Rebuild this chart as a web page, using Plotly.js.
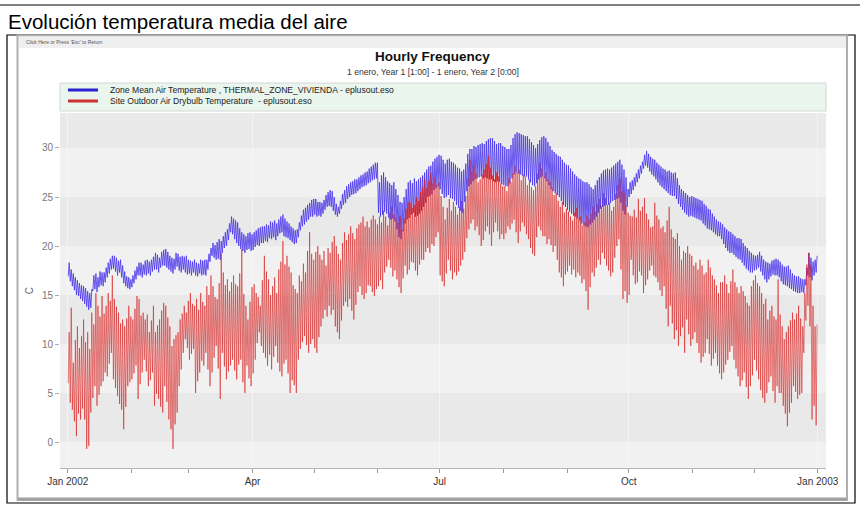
<!DOCTYPE html>
<html><head><meta charset="utf-8">
<script src="https://cdn.plot.ly/plotly-3.0.1.min.js"></script>
<style>html,body{margin:0;padding:0;background:#fff;}#chart{width:860px;height:508px;}</style>
</head><body><div id="chart"></div>
<script>
// ---------------- DATA ----------------
const docTitle = 'Evolución temperatura media del aire';
const chartTitle = 'Hourly Frequency';
const chartSubtitle = '1 enero, Year 1 [1:00] - 1 enero, Year 2 [0:00]';
const returnText = "Click Here or Press 'Esc' to Return";
const yAxisTitle = 'C';
const seriesNames = ['Zone Mean Air Temperature , THERMAL_ZONE_VIVIENDA - eplusout.eso',
                     'Site Outdoor Air Drybulb Temperature  - eplusout.eso'];
const firstDay = '2002-01-01';
const tickDates = ['2002-01-01','2002-04-01','2002-07-01','2002-10-01','2003-01-01'];
const tickLabels = ['Jan 2002','Apr','Jul','Oct','Jan 2003'];
const yTicks = [0,5,10,15,20,25,30];

// daily minimum / maximum, one value per day of 2002 (365)
const outdoorHigh = [
 11.2,13.7,8.1,10.4,11.8,9.6,10.8,12.5,10.2,11.2,9.5,13.2,12.0,15.2,13.9,12.8,14.9,13.1,13.9,15.2,14.4,17.0,14.6,13.8,13.2,12.1,12.5,11.8,12.6,13.9,12.8,
 12.5,13.6,14.9,14.6,12.9,13.2,12.5,13.0,11.2,12.4,13.9,11.2,11.9,12.5,13.4,14.2,13.9,12.7,11.8,9.8,10.5,10.9,11.2,12.5,13.1,13.9,13.2,14.4,
 15.2,14.1,13.9,14.6,13.5,15.2,14.3,13.9,15.9,15.0,17.0,15.9,14.8,14.6,16.2,19.3,17.3,16.0,16.6,15.4,16.3,17.0,16.1,15.9,17.2,19.7,15.1,13.9,12.5,14.3,15.8,
 16.1,15.2,14.8,13.9,16.5,19.0,17.4,16.6,15.0,15.9,16.8,15.2,17.6,18.4,20.5,18.1,19.0,17.9,17.3,16.0,15.6,15.2,17.0,16.4,18.2,17.3,19.5,21.4,19.2,18.6,
 19.4,20.0,19.1,18.6,19.5,18.0,19.8,19.3,20.4,21.0,20.0,19.2,18.6,20.3,21.4,20.6,21.2,22.0,21.3,20.7,21.8,22.2,22.4,23.0,22.0,22.5,21.9,22.7,23.1,22.7,22.2,
 23.0,22.4,23.6,23.0,22.1,23.4,24.0,23.2,22.9,22.4,23.0,21.7,22.8,23.8,24.5,24.4,23.9,24.2,25.0,24.6,25.5,26.0,26.8,25.9,26.6,27.5,26.4,27.0,26.2,26.5,
 25.1,24.0,22.7,23.9,24.8,23.6,24.5,24.0,23.2,24.0,24.6,23.8,25.1,26.9,28.8,27.6,28.2,27.4,26.5,26.8,27.3,27.8,28.4,29.2,28.0,27.2,26.8,27.5,27.1,26.4,26.1,
 26.1,25.6,26.9,26.5,27.4,28.2,27.5,27.8,26.7,27.3,27.1,26.2,26.8,26.0,25.7,26.1,27.4,28.5,27.9,27.1,27.5,26.8,26.5,25.9,25.2,25.4,24.6,24.0,24.5,23.4,23.8,
 23.5,23.0,22.6,23.4,23.9,22.8,23.0,22.1,22.4,23.1,22.7,23.3,24.0,23.5,24.3,24.8,24.1,25.4,24.9,24.2,24.4,23.6,24.0,25.3,26.2,26.8,25.6,25.4,24.1,23.4,
 23.1,23.0,23.7,22.9,24.8,23.6,24.0,24.9,23.3,22.7,21.9,22.0,24.4,23.1,22.7,21.8,22.0,21.4,22.6,24.0,21.7,20.9,20.7,21.3,20.0,18.6,19.5,19.3,20.0,19.2,19.0,
 18.0,18.3,17.6,18.6,18.0,17.1,17.3,18.6,17.8,17.0,16.6,16.0,15.2,16.3,16.3,17.0,16.1,15.2,16.4,17.6,16.3,15.8,15.2,15.9,15.4,14.9,14.2,13.9,15.9,16.5,
 17.0,16.2,15.9,15.2,14.1,14.6,12.5,13.4,13.9,12.8,12.5,16.6,13.0,11.8,10.5,11.2,11.8,12.4,13.2,12.5,13.1,13.9,12.6,11.8,15.2,18.1,19.3,18.0,13.9,11.8,12.0
];
const outdoorLow = [
 6.0,4.0,3.3,2.1,0.6,2.9,2.3,3.4,2.3,-0.7,-0.4,3.0,4.5,5.7,3.7,4.8,5.7,6.2,7.1,6.7,8.0,9.1,6.4,5.5,4.7,3.9,3.3,1.3,3.6,5.7,6.1,
 6.4,7.0,7.8,4.4,5.9,7.1,8.4,7.2,5.7,6.3,7.1,3.7,4.9,4.4,3.6,3.0,5.7,4.1,2.3,1.3,-0.7,1.8,3.0,5.7,7.4,9.1,10.5,9.6,
 8.4,9.0,9.5,5.0,6.2,7.1,8.3,7.8,9.1,7.4,5.7,7.1,8.6,9.8,7.5,4.4,9.1,7.7,6.4,7.2,7.8,8.4,7.3,6.4,7.9,8.4,6.1,5.0,7.8,6.5,5.7,
 7.0,8.4,10.1,11.2,9.8,9.1,8.6,7.8,8.9,7.4,8.7,9.8,8.1,7.2,6.7,8.0,8.4,7.0,5.0,6.3,5.8,5.0,8.4,9.5,10.2,10.8,9.9,9.1,10.0,10.5,
 9.6,9.1,10.7,11.8,12.6,13.5,12.8,13.9,13.0,13.5,11.8,11.2,10.5,12.4,13.9,14.3,13.8,14.6,13.4,12.5,14.0,15.3,15.9,15.0,14.6,15.2,16.0,15.9,15.3,14.9,15.6,
 15.9,16.5,15.6,17.3,17.9,18.6,17.8,16.9,17.5,16.6,15.8,15.2,16.7,18.0,17.1,17.6,18.4,18.3,17.5,17.0,18.1,18.6,18.6,19.4,19.8,19.3,20.2,20.0,20.9,21.4,
 17.0,16.4,15.9,17.2,18.6,17.5,16.6,17.3,17.0,17.4,18.0,18.6,19.4,20.8,21.7,22.3,22.7,21.6,22.0,21.1,20.0,20.6,21.5,22.0,21.2,20.0,21.4,22.4,21.5,20.7,21.2,
 20.7,21.3,22.0,21.7,22.3,22.7,21.4,20.3,21.5,22.4,22.0,21.2,20.7,19.8,19.2,19.0,20.9,22.0,21.6,21.0,21.0,20.2,20.7,20.1,19.4,20.0,18.6,17.3,16.8,15.9,17.1,
 17.4,18.0,17.1,17.6,16.8,17.3,17.0,16.2,16.6,15.4,13.5,15.8,17.3,16.9,17.8,18.6,18.1,19.3,18.7,18.0,17.5,16.9,17.3,18.8,20.0,20.7,17.6,14.6,15.4,14.2,
 15.0,18.6,17.0,16.1,16.3,17.4,17.0,15.2,16.0,16.6,17.5,18.0,17.0,16.8,16.3,15.5,14.9,15.9,13.6,11.8,13.9,12.1,10.5,11.4,9.8,10.8,11.7,9.1,12.5,11.0,9.8,
 10.5,11.2,10.1,9.1,8.1,8.7,9.1,10.5,9.0,7.8,8.5,9.1,7.8,7.0,6.4,7.1,7.9,8.4,9.2,9.8,8.4,7.5,6.7,5.7,6.3,7.1,5.6,4.4,5.7,6.8,
 8.4,7.3,6.4,5.3,4.5,4.0,5.0,6.1,6.7,5.2,4.0,5.7,5.0,5.0,3.7,2.9,1.6,3.0,4.0,5.7,5.1,4.4,4.8,5.0,9.1,12.4,13.9,11.8,2.3,3.7,1.7
];
const zoneHigh = [
 18.3,17.6,17.2,16.8,16.5,16.2,16.0,15.9,15.7,15.4,15.2,15.6,17.0,17.2,16.8,17.4,17.3,17.3,17.8,18.3,18.7,19.0,19.0,18.8,18.5,18.6,18.0,17.4,16.9,16.8,16.6,
 17.0,17.5,17.9,18.3,18.3,18.1,18.5,18.6,18.4,18.6,18.9,19.3,19.1,18.8,19.4,19.6,19.7,19.4,19.0,18.8,18.7,19.3,19.2,18.9,19.0,18.9,19.0,18.6,
 18.5,18.4,18.6,18.3,18.2,18.6,18.5,18.6,18.6,19.2,19.8,20.3,20.1,20.4,20.7,20.5,21.0,21.4,21.7,22.3,23.0,22.8,22.6,22.4,21.8,21.4,21.2,21.0,21.3,21.4,21.2,
 21.4,21.6,21.8,21.9,22.0,22.0,22.2,22.1,22.5,22.4,22.6,22.3,22.7,23.0,23.2,22.8,22.5,22.3,22.0,21.8,21.6,21.7,22.4,23.1,23.7,23.9,24.2,24.4,24.7,24.8,
 24.8,24.5,24.5,24.4,24.7,25.2,25.5,25.7,25.6,25.0,24.3,24.0,24.6,25.3,25.7,26.1,26.3,26.5,26.6,26.8,26.8,27.0,27.2,27.3,27.5,27.6,27.9,28.1,28.3,28.5,28.5,
 26.5,27.2,27.5,27.0,26.6,26.4,26.2,26.5,25.8,25.2,24.5,24.4,25.0,25.8,26.5,26.7,26.4,26.9,26.6,26.8,27.0,27.2,27.5,27.8,28.1,28.2,28.6,28.9,29.1,29.3,
 29.2,28.8,28.4,28.8,28.9,28.6,28.5,28.3,28.0,27.9,27.6,27.8,28.4,29.4,29.9,29.9,30.2,30.1,30.3,30.4,30.5,30.4,30.7,30.9,31.0,31.0,30.7,30.4,30.5,30.5,30.2,
 30.1,29.9,29.9,30.3,31.0,31.4,31.6,31.5,31.4,31.3,31.2,31.2,30.9,30.6,30.3,30.0,30.4,30.8,31.1,31.2,31.0,30.6,30.2,29.8,29.6,29.4,29.2,29.1,28.8,28.5,28.3,
 28.2,27.9,27.6,27.3,27.1,26.9,26.8,26.6,26.5,26.5,26.3,26.0,25.8,26.2,26.7,27.0,27.4,27.7,27.8,27.9,27.8,28.0,28.2,28.4,28.6,28.8,28.3,27.8,27.0,25.8,
 26.5,26.7,27.0,27.4,27.8,28.2,28.6,29.3,29.7,29.4,29.1,28.9,28.8,28.5,28.3,28.1,27.9,27.8,27.6,27.7,27.5,27.4,27.5,26.9,26.2,25.8,25.6,25.4,25.2,25.0,25.1,
 25.0,24.9,24.8,24.7,24.6,24.3,24.1,23.8,23.7,23.3,23.0,22.7,22.5,22.4,22.2,21.9,21.7,21.5,21.4,21.2,21.0,20.8,20.8,20.7,20.3,20.0,19.8,19.5,19.3,19.1,
 19.0,19.1,19.4,19.0,18.6,18.4,18.3,18.2,18.5,18.6,18.7,18.6,18.4,18.1,17.9,17.9,18.0,17.6,17.2,17.0,16.9,16.9,16.7,16.6,16.6,17.8,19.3,18.8,18.4,18.6,19.0
];
const zoneLow = [
 16.9,16.4,15.9,15.5,15.0,14.9,14.6,14.4,14.1,13.8,13.5,13.7,15.4,15.6,15.3,15.8,16.0,15.9,16.3,16.8,17.2,17.6,17.7,17.4,17.0,17.3,16.8,16.2,15.9,15.7,15.6,
 15.8,16.2,16.6,17.0,17.0,16.8,17.1,17.0,17.2,17.0,17.4,17.6,17.6,17.3,17.8,18.0,18.0,17.8,17.6,17.4,17.2,17.6,17.9,17.5,17.3,17.6,17.3,17.1,
 17.2,17.0,17.3,17.0,16.9,17.2,17.0,17.1,17.0,17.6,18.4,19.0,18.8,18.6,18.7,18.6,19.3,19.8,20.0,20.6,21.4,21.2,20.7,20.3,20.0,19.7,19.5,19.3,19.6,19.7,19.5,
 19.6,19.9,20.1,20.0,20.3,20.3,20.5,20.4,20.8,20.7,20.9,20.6,21.0,21.3,21.4,21.0,20.9,20.8,20.6,20.4,20.2,20.3,20.9,21.6,22.0,22.2,22.5,22.7,23.0,23.0,
 23.2,23.0,23.1,23.0,23.3,23.7,24.0,24.1,24.0,23.6,23.2,23.0,23.3,23.8,24.2,24.4,24.8,25.0,25.2,25.3,25.4,25.6,25.8,26.0,26.1,26.2,26.4,26.5,26.7,26.8,26.9,
 23.4,23.0,23.2,23.5,23.3,22.9,22.7,22.8,22.5,21.7,20.9,20.7,21.5,22.3,22.7,22.9,23.2,23.4,23.0,23.1,23.3,23.6,24.0,24.4,25.0,25.1,25.3,25.7,25.9,26.1,
 25.8,25.3,24.9,25.0,25.2,24.9,24.8,24.6,24.2,23.9,23.6,23.4,24.5,25.6,26.1,26.3,26.6,26.8,26.9,27.0,27.1,26.9,27.0,26.9,26.8,26.8,26.6,26.5,26.6,26.5,26.3,
 26.2,26.1,26.1,26.4,26.9,27.3,27.5,27.4,27.3,27.2,27.1,27.1,26.8,26.5,26.2,26.1,26.4,26.8,27.0,27.1,26.9,26.6,26.2,25.8,25.6,25.4,25.2,25.0,24.6,24.2,24.0,
 23.7,23.5,23.3,23.1,23.0,22.8,22.6,22.3,22.1,22.0,21.9,22.2,22.4,22.7,23.0,23.4,23.8,24.0,24.1,24.2,24.2,24.4,24.6,24.7,24.8,24.9,24.4,23.6,23.2,24.0,
 25.0,25.3,25.7,26.1,26.5,26.9,27.4,27.9,28.2,28.0,27.6,27.3,27.1,26.8,26.5,26.2,26.0,25.8,25.6,25.4,25.2,25.1,25.1,24.8,24.3,24.0,23.7,23.4,23.2,23.0,23.1,
 23.0,22.9,22.8,22.7,22.6,22.3,22.1,21.8,21.7,21.6,21.4,21.2,21.0,21.0,20.7,20.2,19.8,19.5,19.3,19.3,19.1,18.9,18.7,18.6,18.3,18.0,17.7,17.5,17.3,17.3,
 17.5,17.6,17.8,17.4,17.0,16.6,16.3,16.6,16.9,17.1,17.0,17.0,16.8,16.4,16.1,16.0,15.9,15.7,15.6,15.4,15.3,15.2,15.2,15.3,15.2,16.0,17.0,16.8,16.5,17.0,17.3
];

// ---------------- BUILD ----------------
const DAY = 86400000;
const t0 = Date.parse(firstDay + 'T00:00:00Z');
function iso(ms){ return new Date(ms).toISOString().slice(0,19).replace('T',' '); }
function dailyTrace(lo, hi){
  const x = [], y = [];
  for (let i = 0; i < lo.length; i++){
    x.push(iso(t0 + (i + 0.25) * DAY)); y.push(lo[i]);
    x.push(iso(t0 + (i + 0.72) * DAY)); y.push(hi[i]);
  }
  return {x, y};
}
const zone = dailyTrace(zoneLow, zoneHigh);
const outdoor = dailyTrace(outdoorLow, outdoorHigh);

const W = 860, H = 508;
const M = {l:60, r:34, t:113, b:40};
const PW = W - M.l - M.r, PH = H - M.t - M.b;
const px = v => (v - M.l) / PW;
const py = v => (H - M.b - v) / PH;

const FONT = 'Liberation Sans, Arial, sans-serif';
const yMin = -2.65, yMax = 33.57;

const shapes = [];
// document frame
shapes.push({type:'line', xref:'paper', yref:'paper', x0:px(0), x1:px(860), y0:py(5), y1:py(5), line:{color:'#000', width:1}, layer:'below'});
shapes.push({type:'rect', xref:'paper', yref:'paper', x0:px(7), x1:px(855), y0:py(35), y1:py(503), line:{color:'#000', width:1.2}, fillcolor:'#fff', layer:'below'});
// screenshot window
shapes.push({type:'rect', xref:'paper', yref:'paper', x0:px(17.5), x1:px(847), y0:py(35.5), y1:py(500), line:{color:'#b0b0b0', width:2}, fillcolor:'#fff', layer:'below'});
shapes.push({type:'line', xref:'paper', yref:'paper', x0:px(18), x1:px(847), y0:py(499), y1:py(499), line:{color:'#a0a0a0', width:3}, layer:'below'});
shapes.push({type:'rect', xref:'paper', yref:'paper', x0:px(19), x1:px(846), y0:py(36.5), y1:py(48), line:{width:0}, fillcolor:'#efefef', layer:'below'});
// legend box
shapes.push({type:'rect', xref:'paper', yref:'paper', x0:px(60), x1:px(826), y0:py(83), y1:py(111), line:{color:'#d6d6d6', width:1}, fillcolor:'#e9f5ed', layer:'below'});
shapes.push({type:'line', xref:'paper', yref:'paper', x0:px(68), x1:px(98), y0:py(90), y1:py(90), line:{color:'#2a22d0', width:3}});
shapes.push({type:'line', xref:'paper', yref:'paper', x0:px(68), x1:px(98), y0:py(101), y1:py(101), line:{color:'#cc3333', width:3}});
// alternating horizontal bands between y tick values
const bounds = [yMin].concat(yTicks).concat([yMax]);
for (let i = 0; i < bounds.length - 1; i++){
  const dark = (i % 2 === 1);
  shapes.push({type:'rect', xref:'paper', yref:'y', x0:0, x1:1, y0:bounds[i], y1:bounds[i+1],
    line:{width:0}, fillcolor: dark ? '#e9e9e9' : '#f1f1f1', layer:'below'});
}

const annotations = [
  {text:docTitle, x:px(6), y:py(22), xanchor:'left', yanchor:'middle', font:{family:FONT, size:20.5, color:'#000'}},
  {text:returnText, x:px(24), y:py(42), xanchor:'left', yanchor:'middle', font:{family:FONT, size:5, color:'#555'}},
  {text:'<b>' + chartTitle + '</b>', x:px(432), y:py(57), xanchor:'center', yanchor:'middle', font:{family:FONT, size:13.5, color:'#111'}},
  {text:chartSubtitle, x:px(433), y:py(72), xanchor:'center', yanchor:'middle', font:{family:FONT, size:8.6, color:'#333'}},
  {text:seriesNames[0], x:px(108), y:py(90), xanchor:'left', yanchor:'middle', font:{family:FONT, size:8.6, color:'#222'}},
  {text:seriesNames[1], x:px(108), y:py(101), xanchor:'left', yanchor:'middle', font:{family:FONT, size:8.6, color:'#222'}}
].map(a => Object.assign({xref:'paper', yref:'paper', showarrow:false}, a));

const traces = [
  {type:'scatter', mode:'lines', name:seriesNames[0], x:zone.x, y:zone.y,
   line:{color:'rgba(70,50,235,0.8)', width:1}, hoverinfo:'skip'},
  {type:'scatter', mode:'lines', name:seriesNames[1], x:outdoor.x, y:outdoor.y,
   line:{color:'rgba(215,22,22,0.62)', width:0.9}, hoverinfo:'skip'}
];

const layout = {
  width:W, height:H, margin:M, showlegend:false,
  paper_bgcolor:'#ffffff', plot_bgcolor:'rgba(0,0,0,0)',
  font:{family:FONT},
  xaxis:{type:'date', range:['2001-12-28 06:00','2003-01-05 01:00'],
    tickmode:'array', tickvals:tickDates, ticktext:tickLabels,
    ticks:'outside', ticklen:4, tickcolor:'#9a9a9a',
    tickfont:{size:10, color:'#333'},
    showline:true, linecolor:'#b4b4b4', linewidth:1,
    showgrid:true, gridcolor:'rgba(255,255,255,0.45)', gridwidth:1, zeroline:false,
    minor:{dtick:'M1', tick0:firstDay, ticks:'outside', ticklen:4, tickcolor:'#9a9a9a', showgrid:false}},
  yaxis:{range:[yMin, yMax], tickmode:'array', tickvals:yTicks,
    ticks:'outside', ticklen:4, tickcolor:'#aaa', tickfont:{size:10, color:'#777'},
    showline:false, showgrid:false, zeroline:false,
    title:{text:yAxisTitle, font:{size:10, color:'#666'}, standoff:6}},
  shapes, annotations
};

Plotly.newPlot('chart', traces, layout, {staticPlot:true, displayModeBar:false});
</script></body></html>
